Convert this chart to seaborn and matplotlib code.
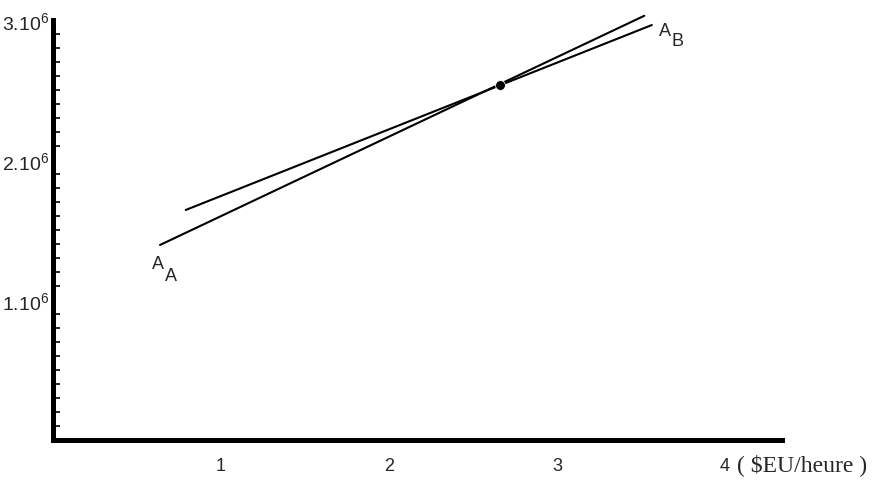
import numpy as np
import pandas as pd
import matplotlib
matplotlib.use("Agg")
import matplotlib.pyplot as plt
import seaborn as sns
from matplotlib.ticker import MultipleLocator

sns.set_style("white")
plt.rcParams['font.family'] = ['Liberation Sans', 'DejaVu Sans']
plt.rcParams['mathtext.default'] = 'regular'

# Line end points (x in $EU/heure, y in units)
line_names = ["A_A", "A_B"]
aa_x = [0.637, 3.52]
aa_y = [1.393e6, 3.03e6]
ab_x = [0.79, 3.565]
ab_y = [1.643e6, 2.964e6]
cross_x = [2.66]
cross_y = [2.538e6]

x_ticks = [1, 2, 3, 4]
y_ticks = [1e6, 2e6, 3e6]
y_tick_labels = [r'1.10$^6$', r'2.10$^6$', r'3.10$^6$']

lines = pd.DataFrame({
    "x": aa_x + ab_x,
    "y": aa_y + ab_y,
    "name": [line_names[0]] * 2 + [line_names[1]] * 2,
})

fig = plt.figure(figsize=(8.74, 4.81), dpi=100)
ax = fig.add_axes([53 / 874, 40 / 481, 729 / 874, 420 / 481])

sns.lineplot(data=lines, x="x", y="y", units="name", estimator=None,
             color="black", linewidth=1.5, ax=ax, legend=False, clip_on=False)
sns.scatterplot(x=cross_x, y=cross_y, color="black", s=50, ax=ax,
                zorder=5, clip_on=False)

ax.set_xlim(0, 4.34)
ax.set_ylim(0, 3.0e6)
ax.set_xlabel("")
ax.set_ylabel("")

ax.set_xticks(x_ticks)
ax.set_xticklabels([str(t) for t in x_ticks], fontsize=13)
ax.set_yticks(y_ticks)
ax.set_yticklabels(y_tick_labels, fontsize=14)
ax.yaxis.set_minor_locator(MultipleLocator(1e5))

ax.tick_params(axis='x', which='major', direction='in', length=5, width=1,
               pad=12, color='black')
ax.tick_params(axis='y', which='major', direction='in', length=10, width=1.5,
               pad=3, color='black')
ax.tick_params(axis='y', which='minor', direction='in', length=5, width=1.2,
               color='black', left=True)

for side in ['top', 'right']:
    ax.spines[side].set_visible(False)
for side in ['left', 'bottom']:
    ax.spines[side].set_linewidth(3.6)
    ax.spines[side].set_color('black')

# line labels
ax.text(aa_x[0] - 0.05, aa_y[0] - 0.07e6, "A", fontsize=13, ha='left', va='top')
ax.text(aa_x[0] + 0.03, aa_y[0] - 0.16e6, "A", fontsize=13, ha='left', va='top')
ax.text(ab_x[1] + 0.04, ab_y[1] + 0.02e6, "A", fontsize=13, ha='left', va='top')
ax.text(ab_x[1] + 0.12, ab_y[1] - 0.05e6, "B", fontsize=13, ha='left', va='top')

# unit label next to the last x tick
ax.text(4.07, -0.175e6, "( $EU/heure )", fontsize=17, ha='left', va='center',
        family=['Liberation Serif', 'DejaVu Serif'], clip_on=False)

fig.savefig("out.png", dpi=100)
